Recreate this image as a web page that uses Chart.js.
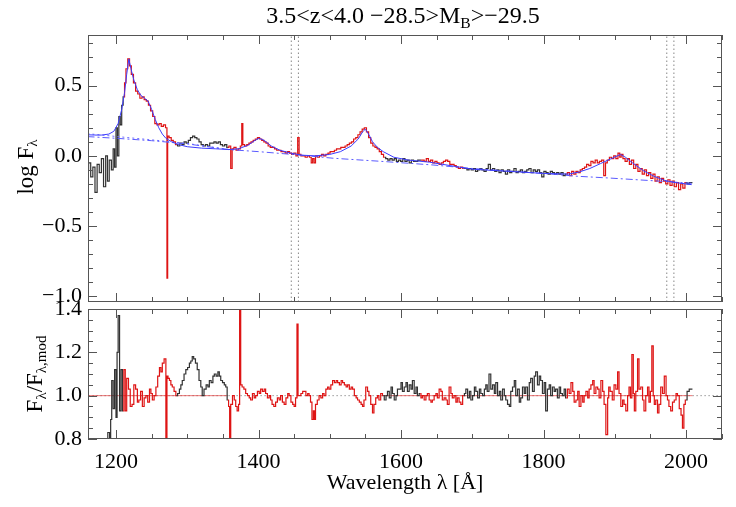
<!DOCTYPE html>
<html>
<head>
<meta charset="utf-8">
<script src="https://cdn.jsdelivr.net/npm/chart.js@4.4.0/dist/chart.umd.min.js"></script>
<style>
body { margin: 0; background: #fff; }
#wrap { position: relative; width: 736px; height: 507px; font-family: "Liberation Serif", "DejaVu Serif", serif; color: #000; }
canvas { position: absolute; left: 0; }
#top { top: 0; }
#bot { top: 290px; }
.lbl { position: absolute; white-space: nowrap; transform: translate(-50%, -50%); }
.rot { transform: translate(-50%, -50%) rotate(-90deg); }
sub { font-size: 65%; vertical-align: -0.3em; }
</style>
</head>
<body>
<div id="wrap">
  <canvas id="top" width="736" height="306"></canvas>
  <canvas id="bot" width="736" height="217"></canvas>
  <div class="lbl" style="left:403px; top:17px; font-size:24px;">3.5&lt;z&lt;4.0 −28.5&gt;M<sub>B</sub>&gt;−29.5</div>
  <div class="lbl rot" style="left:27px; top:167px; font-size:23px;">log F<sub>λ</sub></div>
  <div class="lbl rot" style="left:36px; top:374px; font-size:23px;">F<sub>λ</sub>/F<sub>λ,mod</sub></div>
</div>
<script>
// observed spectrum, log flux (top panel)
var waveTop = [1160,1163,1166,1169,1172,1175,1178,1181,1184,1187,1189,1192,1195,1197,1199,1201,1203,1205,1207,1209,
  1211,1213,1215,1218,1220,1223,1226,1229,1232,1235,1238,1241,1244,1247,1250,1253,1256,1259,1262,1265,1268,1271,1272,1273,
  1276,1279,1282,1285,1288,1291,1294,1297,1300,1303,1306,1309,1312,1315,1318,1321,1324,1327,1330,1333,1336,1339,1342,1345,
  1348,1351,1354,1357,1360,1362,1364,1367,1370,1373,1376,1377,1379,1382,1385,1388,1391,1394,1397,1400,1403,1406,1409,1412,
  1415,1418,1421,1424,1427,1430,1433,1436,1439,1442,1445,1448,1451,1454,1456,1458,1461,1464,1467,1470,1473,1475,1477,1479,
  1481,1484,1487,1490,1493,1496,1499,1502,1505,1508,1511,1514,1517,1520,1523,1526,1529,1532,1535,1538,1541,1544,1547,1550,
  1553,1556,1559,1562,1565,1568,1571,1574,1577,1580,1583,1586,1589,1592,1595,1598,1601,1604,1607,1610,1613,1616,1619,1622,
  1625,1628,1631,1634,1637,1640,1643,1646,1649,1652,1655,1658,1661,1664,1667,1670,1673,1676,1679,1682,1685,1688,1691,1694,
  1697,1700,1703,1706,1709,1712,1715,1718,1721,1724,1727,1730,1733,1736,1739,1742,1745,1748,1751,1754,1757,1760,1763,1766,
  1769,1772,1775,1778,1781,1784,1787,1790,1793,1796,1799,1802,1805,1808,1811,1814,1817,1820,1823,1826,1829,1832,1835,1838,
  1841,1844,1847,1850,1853,1856,1859,1862,1865,1868,1871,1874,1877,1880,1883,1886,1888,1891,1894,1897,1900,1903,1906,1908,
  1910,1913,1916,1919,1922,1925,1928,1931,1934,1937,1940,1943,1946,1949,1952,1955,1958,1961,1964,1967,1970,1973,1976,1979,
  1982,1985,1988,1991,1994,1997,2000,2003,2006,2009];
var fluxTop = [-0.10,-0.05,-0.15,-0.08,-0.26,-0.06,-0.12,-0.02,-0.22,0.00,-0.18,-0.03,-0.10,0.05,-0.08,0.20,0.00,0.28,0.22,0.36,
  0.42,0.52,0.62,0.69,0.64,0.58,0.52,0.46,0.44,0.41,0.42,0.40,0.39,0.36,0.32,0.28,0.23,0.22,0.23,0.21,0.22,0.20,-0.87,0.14,
  0.13,0.11,0.10,0.08,0.07,0.09,0.08,0.10,0.09,0.11,0.13,0.14,0.13,0.12,0.10,0.08,0.07,0.08,0.07,0.09,0.09,0.10,0.09,0.10,
  0.08,0.07,0.08,0.06,0.07,-0.09,0.05,0.06,0.04,0.05,0.07,0.23,0.08,0.07,0.08,0.09,0.10,0.11,0.12,0.13,0.12,0.11,0.10,0.09,
  0.07,0.06,0.06,0.05,0.04,0.04,0.03,0.03,0.02,0.03,0.02,0.01,0.02,0.00,0.13,0.01,0.00,0.00,-0.01,0.00,-0.01,-0.05,-0.02,-0.05,
  0.00,-0.01,0.00,0.01,0.00,0.01,0.02,0.03,0.03,0.04,0.05,0.05,0.06,0.06,0.07,0.08,0.09,0.10,0.12,0.13,0.15,0.17,0.19,0.20,
  0.17,0.13,0.09,0.07,0.06,0.05,0.03,0.01,-0.01,-0.02,-0.03,-0.02,-0.03,-0.02,-0.04,-0.03,-0.04,-0.02,-0.04,-0.03,-0.05,-0.03,-0.04,-0.04,
  -0.03,-0.03,-0.03,-0.04,-0.02,-0.04,-0.03,-0.05,-0.04,-0.05,-0.06,-0.05,-0.04,-0.03,-0.04,-0.06,-0.06,-0.07,-0.08,-0.09,-0.08,-0.09,-0.09,-0.10,
  -0.09,-0.10,-0.09,-0.11,-0.10,-0.09,-0.10,-0.11,-0.09,-0.06,-0.10,-0.09,-0.11,-0.10,-0.12,-0.10,-0.11,-0.13,-0.10,-0.12,-0.11,-0.09,-0.12,-0.11,
  -0.10,-0.12,-0.11,-0.10,-0.09,-0.12,-0.10,-0.11,-0.10,-0.12,-0.15,-0.11,-0.12,-0.13,-0.11,-0.12,-0.13,-0.12,-0.13,-0.12,-0.14,-0.13,-0.12,-0.14,
  -0.11,-0.13,-0.11,-0.12,-0.10,-0.09,-0.08,-0.06,-0.07,-0.04,-0.05,-0.03,-0.05,-0.04,-0.03,-0.14,-0.05,-0.03,-0.01,-0.02,0.00,-0.02,0.02,-0.01,
  0.01,-0.02,-0.04,-0.02,-0.06,-0.03,-0.09,-0.06,-0.11,-0.09,-0.13,-0.10,-0.14,-0.12,-0.16,-0.13,-0.18,-0.15,-0.19,-0.16,-0.18,-0.20,-0.17,-0.21,
  -0.18,-0.22,-0.19,-0.24,-0.20,-0.23,-0.19,-0.20,-0.19,-0.19];

// model fit and continuum
var waveModel = [1160,1170,1180,1190,1197,1203,1208,1212,1215,1218,1221,1225,1230,1235,1240,1245,1250,1255,1260,1265,1270,1278,1288,
  1300,1320,1340,1360,1372,1385,1395,1401,1408,1418,1430,1445,1460,1480,1500,1515,1530,1540,1546,1550,1555,1560,1567,1575,1590,
  1610,1640,1670,1700,1750,1800,1835,1850,1865,1880,1895,1908,1915,1925,1940,1955,1970,1985,2000,2008];
var fluxModel = [0.150,0.148,0.148,0.155,0.175,0.23,0.33,0.45,0.58,0.69,0.62,0.54,0.47,0.43,0.41,0.39,0.33,0.26,0.20,0.155,0.125,0.10,0.08,
  0.065,0.055,0.05,0.045,0.05,0.075,0.11,0.125,0.11,0.07,0.04,0.02,0.005,0.0,0.01,0.03,0.07,0.12,0.17,0.19,0.15,0.10,0.06,0.03,-0.01,
  -0.03,-0.045,-0.07,-0.095,-0.11,-0.125,-0.13,-0.115,-0.09,-0.055,-0.02,0.01,-0.01,-0.05,-0.105,-0.145,-0.175,-0.19,-0.20,-0.205];
var waveCont = [1160,1200,1250,1300,1357,1400,1455,1505,1575,1645,1700,1757,1800,1847,1893,1963,2008];
var fluxCont = [0.137,0.125,0.108,0.085,0.045,0.03,0.007,-0.017,-0.04,-0.065,-0.09,-0.11,-0.125,-0.145,-0.158,-0.18,-0.195];
var waveCont2 = [1160,1200,1250,1300,1357];
var fluxCont2 = [0.158,0.138,0.114,0.088,0.047];

// residual ratio (bottom panel)
var waveRatio = [1160,1165,1170,1175,1180,1184,1187,1190,1192,1193,1195,1197,1199,1201,1202,1204,1206,1208,1210,1212,1214,1216,1219,
  1221,1224,1226,1229,1231,1233,1236,1238,1241,1243,1246,1248,1250,1252,1255,1257,1260,1262,1264,1266,1269,1271,1272,1274,1276,
  1278,1280,1283,1285,1288,1290,1292,1294,1297,1299,1302,1304,1306,1308,1310,1313,1315,1318,1320,1322,1325,1328,1330,1332,1335,
  1337,1339,1342,1344,1346,1348,1351,1353,1355,1357,1359,1360,1362,1365,1367,1369,1371,1373,1374,1376,1378,1381,1383,1386,1388,
  1390,1393,1395,1397,1400,1402,1404,1407,1409,1411,1414,1416,1418,1420,1423,1425,1428,1430,1432,1435,1437,1440,1442,1444,1447,
  1449,1451,1453,1455,1456,1458,1461,1463,1465,1468,1470,1472,1474,1476,1478,1479,1481,1484,1486,1489,1491,1493,1496,1498,1500,
  1503,1505,1508,1510,1512,1515,1517,1519,1522,1524,1526,1529,1531,1533,1536,1538,1540,1543,1545,1547,1549,1552,1554,1556,1559,
  1561,1563,1566,1568,1570,1573,1575,1578,1580,1582,1585,1587,1589,1592,1594,1596,1599,1601,1603,1606,1608,1610,1613,1615,1617,
  1620,1622,1624,1627,1629,1631,1634,1636,1638,1641,1643,1645,1648,1650,1652,1655,1657,1659,1662,1664,1666,1669,1671,1673,1676,
  1678,1680,1683,1685,1688,1690,1692,1695,1697,1699,1702,1704,1706,1709,1711,1713,1716,1718,1720,1722,1725,1727,1730,1732,1734,
  1737,1739,1741,1744,1746,1748,1751,1753,1755,1758,1760,1762,1765,1767,1769,1772,1774,1776,1779,1781,1783,1786,1788,1790,1793,
  1795,1797,1800,1802,1804,1807,1809,1811,1814,1816,1818,1821,1823,1825,1828,1830,1832,1835,1837,1840,1842,1844,1847,1849,1851,
  1854,1856,1858,1861,1863,1865,1868,1870,1872,1875,1877,1879,1882,1884,1886,1889,1891,1892,1895,1898,1900,1903,1905,1907,1910,
  1912,1914,1917,1919,1921,1923,1925,1927,1928,1931,1933,1935,1938,1940,1942,1945,1947,1949,1951,1953,1955,1956,1959,1961,1963,
  1966,1968,1971,1973,1975,1977,1980,1982,1985,1987,1989,1992,1994,1996,1998,2000,2003,2006,2009];
var ratio = [0.55,0.62,0.45,0.60,0.52,0.68,0.74,0.83,0.78,0.89,1.07,0.94,1.12,0.90,1.20,1.37,0.93,1.12,0.93,1.12,0.93,1.08,1.03,
  0.95,0.96,1.05,1.03,0.97,0.98,1.02,0.95,0.99,1.00,0.97,1.03,1.01,0.98,1.00,1.04,1.09,1.13,1.11,1.15,1.17,0.75,1.09,1.08,1.07,
  1.05,1.04,1.02,1.00,1.01,1.03,1.05,1.07,1.10,1.12,1.13,1.15,1.16,1.18,1.17,1.15,1.12,1.07,1.04,1.00,1.03,1.05,1.04,1.07,1.06,
  1.09,1.10,1.09,1.11,1.09,1.07,1.06,1.05,1.04,0.98,0.95,0.75,0.96,1.00,0.98,0.95,0.93,0.96,1.45,1.05,1.04,1.03,1.01,1.00,0.99,
  0.98,1.01,0.99,1.00,1.02,1.01,1.03,1.02,1.03,1.01,0.99,1.00,0.98,0.96,0.95,0.97,0.99,0.98,1.00,0.97,0.96,0.99,1.01,1.00,0.97,
  0.96,0.95,0.99,1.33,1.00,1.00,1.01,1.02,1.02,1.00,1.01,1.00,0.97,0.89,0.93,0.89,0.96,0.98,1.00,0.99,1.01,1.00,1.03,1.04,1.03,
  1.05,1.07,1.06,1.07,1.06,1.05,1.07,1.06,1.05,1.04,1.05,1.03,1.04,1.03,1.00,0.99,0.98,0.97,0.96,0.95,0.98,1.04,1.02,1.00,0.96,
  0.92,0.96,0.99,1.00,0.98,1.01,1.00,0.98,1.00,1.02,0.99,1.04,1.01,0.98,1.00,1.03,1.03,1.06,1.02,1.04,1.06,1.02,1.05,1.03,1.07,
  1.01,1.04,1.00,1.01,0.99,1.00,0.98,1.00,1.01,0.98,0.97,0.98,1.00,1.01,0.99,1.03,1.02,0.98,0.99,0.98,0.96,1.04,1.01,0.99,1.00,
  0.97,0.99,0.97,0.96,1.00,1.01,1.03,0.99,1.02,0.98,1.00,1.04,1.02,0.99,1.03,1.01,1.00,1.03,1.05,1.02,1.10,1.03,1.05,1.01,1.06,
  1.00,1.02,0.98,1.03,1.00,0.98,0.96,0.95,1.02,1.04,1.07,1.00,1.03,0.97,0.99,1.04,1.01,1.04,0.98,1.06,1.08,1.02,1.09,1.11,1.05,
  1.09,1.07,1.01,1.06,0.93,1.03,1.05,1.00,1.04,1.02,1.03,0.99,1.04,1.01,1.00,1.03,0.99,1.03,1.01,1.06,1.02,0.97,0.98,1.02,0.95,
  1.00,0.97,1.00,1.02,0.99,1.03,1.05,1.07,1.01,1.04,1.03,0.99,1.07,1.02,0.96,0.82,0.99,1.04,1.02,0.98,1.05,1.03,1.11,1.01,0.95,
  0.98,0.96,0.93,1.00,1.04,0.99,1.19,1.01,0.93,1.02,1.17,1.03,1.04,0.98,0.93,1.00,1.04,0.97,1.02,1.23,1.00,0.96,0.98,0.92,0.96,
  1.04,1.01,1.09,1.00,0.98,0.95,0.93,0.97,0.98,1.01,1.00,0.94,0.91,0.85,0.96,0.98,1.02,1.03,1.03];

// fitted wavelength windows (drawn red), masked lines and unity segments
var fitWindows = [[1211, 1286], [1357, 1576], [1627, 1688], [1833, 2001]];
var maskLines = [1446, 1456, 1973, 1983];
var unityRed = [[1160, 1357], [1576, 2009]];

var xTicks = [1200, 1400, 1600, 1800, 2000];
var topTicks = [-1.0, -0.5, 0.0, 0.5];
var botTicks = [0.8, 1.0, 1.2, 1.4];

var RED = 'rgb(222,20,20)', BLACK = 'rgb(50,50,50)', BLUE = 'rgb(60,60,255)', FRAME = '#555';
var FONT = '"Liberation Serif", "DejaVu Serif", serif';

function pts(xs, ys) { return xs.map(function (x, i) { return { x: x, y: ys[i] }; }); }
function inFit(w) {
  return fitWindows.some(function (r) { return w >= r[0] && w <= r[1]; });
}
function segColor(ctx) {
  var m = (ctx.p0.parsed.x + ctx.p1.parsed.x) / 2;
  return inFit(m) ? RED : BLACK;
}
function fmt(v) { return v.toFixed(1).replace('-', '−'); }

// box + inward major/minor ticks on all four sides
var frameTicks = {
  id: 'frameTicks',
  afterDatasetsDraw: function (chart, args, o) {
    var ctx = chart.ctx, a = chart.chartArea, xs = chart.scales.x, ys = chart.scales.y;
    ctx.save();
    ctx.strokeStyle = FRAME;
    ctx.lineWidth = 1;
    ctx.strokeRect(a.left + 0.5, a.top + 0.5, a.right - a.left - 1, a.bottom - a.top - 1);
    ctx.beginPath();
    var n0 = Math.ceil(xs.min / o.xMinor), n1 = Math.floor(xs.max / o.xMinor);
    for (var n = n0; n <= n1; n++) {
      var v = n * o.xMinor;
      var len = (Math.abs(v / o.xMajor - Math.round(v / o.xMajor)) < 1e-6) ? 9 : 5;
      var px = Math.round(xs.getPixelForValue(v)) + 0.5;
      ctx.moveTo(px, a.bottom); ctx.lineTo(px, a.bottom - len);
      ctx.moveTo(px, a.top); ctx.lineTo(px, a.top + len);
    }
    n0 = Math.ceil(ys.min / o.yMinor - 1e-6); n1 = Math.floor(ys.max / o.yMinor + 1e-6);
    for (n = n0; n <= n1; n++) {
      v = n * o.yMinor;
      len = (Math.abs(v / o.yMajor - Math.round(v / o.yMajor)) < 1e-6) ? 9 : 5;
      var py = Math.round(ys.getPixelForValue(v)) + 0.5;
      ctx.moveTo(a.left, py); ctx.lineTo(a.left + len, py);
      ctx.moveTo(a.right, py); ctx.lineTo(a.right - len, py);
    }
    ctx.stroke();
    ctx.restore();
  }
};

function xAxis(show) {
  return {
    type: 'linear', min: 1160.7, max: 2050.5,
    grid: { display: false, drawTicks: false }, border: { display: false },
    ticks: { display: show, color: '#000', padding: 10, font: { family: FONT, size: 22 }, callback: function (v) { return String(v); } },
    title: { display: show, text: 'Wavelength λ [Å]', color: '#000', font: { family: FONT, size: 22 }, padding: { top: 0, bottom: 11 } },
    afterBuildTicks: function (s) { s.ticks = xTicks.map(function (v) { return { value: v }; }); },
    afterFit: function (s) { s.height = show ? 68 : 4; s.paddingLeft = 0; s.paddingRight = 0; }
  };
}
function yAxis(min, max, ticks) {
  return {
    type: 'linear', min: min, max: max,
    grid: { display: false, drawTicks: false }, border: { display: false },
    ticks: { color: '#000', padding: 6, font: { family: FONT, size: 22 }, callback: fmt },
    afterBuildTicks: function (s) { s.ticks = ticks.map(function (v) { return { value: v }; }); },
    afterFit: function (s) { s.width = 88; s.paddingTop = 0; s.paddingBottom = 0; }
  };
}
var common = {
  responsive: false, animation: false, events: [],
  plugins: { legend: { display: false }, tooltip: { enabled: false } },
  elements: { point: { radius: 0 } }
};

var topSets = [
  { data: pts(waveModel, fluxModel), borderColor: BLUE, borderWidth: 1, order: 1 },
  { data: pts(waveCont, fluxCont), borderColor: 'rgb(90,90,255)', borderWidth: 1, borderDash: [7, 3, 2, 3], order: 2 },
  { data: pts(waveCont2, fluxCont2), borderColor: 'rgb(110,110,255)', borderWidth: 1, borderDash: [2, 3], order: 3 },
  { data: pts(waveTop, fluxTop), stepped: 'middle', borderWidth: 1.2, borderColor: BLACK, segment: { borderColor: segColor }, order: 4 }
];
maskLines.forEach(function (w) {
  topSets.push({ data: [{ x: w, y: -1.04 }, { x: w, y: 0.86 }], borderColor: '#888', borderWidth: 1, borderDash: [1.5, 2.5], order: 5 });
});

new Chart(document.getElementById('top'), {
  type: 'line',
  data: { datasets: topSets },
  options: Object.assign({}, common, {
    layout: { padding: { top: 35, right: 14, left: 0, bottom: 0 } },
    scales: { x: xAxis(false), y: yAxis(-1.04, 0.86, topTicks) },
    plugins: Object.assign({}, common.plugins, { frameTicks: { xMinor: 50, xMajor: 200, yMinor: 0.1, yMajor: 0.5 } })
  }),
  plugins: [frameTicks]
});

var botSets = [
  { data: pts(waveRatio, ratio), stepped: 'middle', borderWidth: 1.2, borderColor: BLACK, segment: { borderColor: segColor }, order: 1 },
  { data: [{ x: 1150, y: 1 }, { x: 2060, y: 1 }], borderColor: '#999', borderWidth: 1, borderDash: [1.5, 2.5], order: 3 }
];
unityRed.forEach(function (r) {
  botSets.push({ data: [{ x: r[0], y: 1 }, { x: r[1], y: 1 }], borderColor: 'rgba(230,60,60,0.7)', borderWidth: 1, order: 2 });
});

new Chart(document.getElementById('bot'), {
  type: 'line',
  data: { datasets: botSets },
  options: Object.assign({}, common, {
    layout: { padding: { top: 19, right: 14, left: 0, bottom: 0 } },
    scales: { x: xAxis(true), y: yAxis(0.8, 1.4, botTicks) },
    plugins: Object.assign({}, common.plugins, { frameTicks: { xMinor: 50, xMajor: 200, yMinor: 0.05, yMajor: 0.2 } })
  }),
  plugins: [frameTicks]
});
</script>
</body>
</html>
